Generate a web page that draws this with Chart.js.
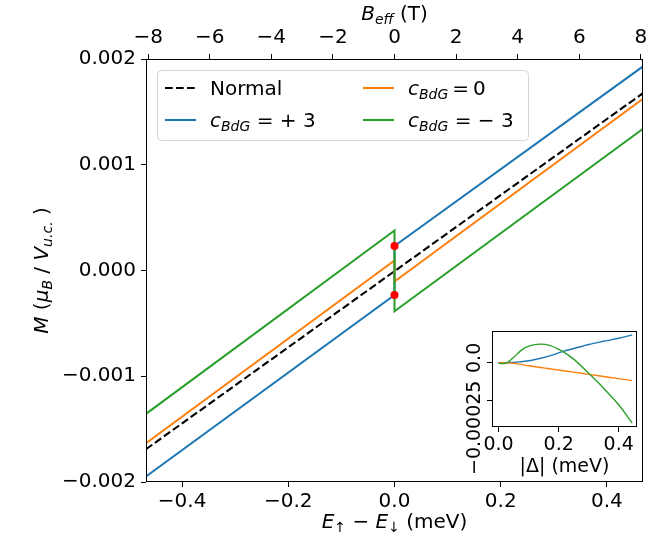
<!DOCTYPE html>
<html lang="en">
<head>
  <meta charset="UTF-8">
  <title>M vs spin splitting</title>
  <script src="https://cdn.jsdelivr.net/npm/chart.js"></script>
  <style>
    html, body { margin: 0; padding: 0; background: #fff; }
    #wrap { position: relative; width: 664px; height: 542px; }
    #mainCanvas { position: absolute; left: 0; top: 0; }
    #insetCanvas { position: absolute; left: 440px; top: 320px; }
  </style>
</head>
<body>
  <div id="wrap">
    <canvas id="mainCanvas" width="664" height="542"></canvas>
    <canvas id="insetCanvas" width="210" height="165"></canvas>
  </div>
  <script>
    // main panel: M vs E_up - E_down (meV), jump at 0
    const eSplit = [-0.468, 0, 0, 0.468];
    const mPlus3 = [-0.001948, -0.000232, 0.000232, 0.001930];
    const mZero = [-0.001633, 0.0000945, -0.000104, 0.001624];
    const mMinus3 = [-0.001355, 0.000378, -0.000385, 0.001340];
    const eNormal = [-0.468, 0.468];
    const mNormal = [-0.001690, 0.001677];
    const eDots = [0, 0];
    const mDots = [0.000232, -0.000232];

    const eTicks = [-0.4, -0.2, 0, 0.2, 0.4];
    const bTicks = [-8, -6, -4, -2, 0, 2, 4, 6, 8];
    const mTicks = [-0.002, -0.001, 0, 0.001, 0.002];

    // inset: M vs |Delta| (meV)
    const gapVals = [0, 0.01, 0.02, 0.03, 0.05, 0.075, 0.1, 0.14, 0.17, 0.21, 0.25, 0.3, 0.35, 0.4, 0.445];
    const insetPlus3 = [0, 0, 0.0000005, 0.000001, 0.000002, 0.000007, 0.000013, 0.00003, 0.000045, 0.000072, 0.000094, 0.000121, 0.000142, 0.000162, 0.000184];
    const insetZero = [0, 0, -0.0000005, -0.000001, -0.000004, -0.000011, -0.00002, -0.000031, -0.00004, -0.000051, -0.000062, -0.000077, -0.000091, -0.000105, -0.000118];
    const insetMinus3 = [0, -0.000006, -0.000005, 0.000003, 0.000035, 0.000082, 0.00011, 0.000123, 0.000115, 0.000078, 0.000024, -0.00007, -0.000169, -0.000278, -0.000399];
    const gapTicks = [0, 0.2, 0.4];
    const insetMTicks = [-0.00025, 0];

    const FONT = "'DejaVu Sans', sans-serif";
    const FS = 20, FS_INSET = 19;
    const BLUE = '#1f77b4', ORANGE = '#ff7f0e', GREEN = '#2ca02c';
    const minus = s => s.replace('-', '\u2212');
    const pts = (xs, ys) => xs.map((x, i) => ({ x: x, y: ys[i] }));

    function fontFor(p, size) {
      const s = p.sub ? size * 0.7 : size;
      return (p.it ? 'italic ' : '') + s + 'px ' + FONT;
    }
    function richWidth(ctx, parts, size) {
      let w = 0;
      parts.forEach(p => { ctx.font = fontFor(p, size); w += ctx.measureText(p.t).width; });
      return w;
    }
    function drawRich(ctx, parts, x, y, size, align) {
      let cx = align === 'center' ? x - richWidth(ctx, parts, size) / 2 : x;
      ctx.save();
      ctx.textAlign = 'left';
      ctx.textBaseline = 'alphabetic';
      ctx.fillStyle = '#000';
      parts.forEach(p => {
        ctx.font = fontFor(p, size);
        ctx.fillText(p.t, cx, y + (p.sub ? size * 0.22 : 0));
        cx += ctx.measureText(p.t).width;
      });
      ctx.restore();
    }

    const cBdG = [{ t: 'c', it: 1 }, { t: 'BdG', it: 1, sub: 1 }];
    const legendItems = [
      { parts: [{ t: 'Normal' }], color: '#000', dash: [7.7, 3.3], col: 0, row: 0 },
      { parts: cBdG.concat([{ t: ' = + 3' }]), color: BLUE, dash: [], col: 0, row: 1 },
      { parts: cBdG.concat([{ t: '\u2009=\u20090' }]), color: ORANGE, dash: [], col: 1, row: 0 },
      { parts: cBdG.concat([{ t: ' = \u2212 3' }]), color: GREEN, dash: [], col: 1, row: 1 }
    ];

    const mainDecor = {
      id: 'mainDecor',
      afterDatasetsDraw(chart) {
        const ctx = chart.ctx, ca = chart.chartArea;
        // legend
        const bx = ca.left + 11, by = ca.top + 11, bw = 371, bh = 70;
        ctx.save();
        ctx.beginPath();
        ctx.roundRect(bx + 0.5, by + 0.5, bw, bh, 4);
        ctx.fillStyle = 'rgba(255,255,255,0.8)';
        ctx.fill();
        ctx.strokeStyle = '#d6d6d6';
        ctx.lineWidth = 1;
        ctx.stroke();
        legendItems.forEach(it => {
          const hx = bx + 8 + it.col * 198, hy = by + 18 + it.row * 32;
          ctx.beginPath();
          ctx.setLineDash(it.dash);
          ctx.strokeStyle = it.color;
          ctx.lineWidth = 2.08;
          ctx.moveTo(hx, hy);
          ctx.lineTo(hx + 31, hy);
          ctx.stroke();
          ctx.setLineDash([]);
          drawRich(ctx, it.parts, hx + 45, hy + 7, FS, 'left');
        });
        ctx.restore();
      },
      afterDraw(chart) {
        const ctx = chart.ctx, ca = chart.chartArea;
        ctx.save();
        ctx.strokeStyle = '#000';
        ctx.lineWidth = 1;
        ctx.strokeRect(Math.round(ca.left) + 0.5, Math.round(ca.top) + 0.5,
          Math.round(ca.right - ca.left) - 1, Math.round(ca.bottom - ca.top) - 1);
        // axis titles
        drawRich(ctx, [{ t: 'E', it: 1 }, { t: '\u2191', sub: 1 }, { t: ' \u2212 ' }, { t: 'E', it: 1 }, { t: '\u2193', sub: 1 }, { t: ' (meV)' }],
          (ca.left + ca.right) / 2, 528, FS, 'center');
        drawRich(ctx, [{ t: 'B', it: 1 }, { t: 'eff', it: 1, sub: 1 }, { t: ' (T)' }],
          (ca.left + ca.right) / 2, 20, FS, 'center');
        ctx.translate(48, (ca.top + ca.bottom) / 2);
        ctx.rotate(-Math.PI / 2);
        drawRich(ctx, [{ t: 'M', it: 1 }, { t: ' (' }, { t: '\u03bc', it: 1 }, { t: 'B', it: 1, sub: 1 }, { t: ' / ' }, { t: 'V', it: 1 }, { t: 'u.c.', it: 1, sub: 1 }, { t: ' )' }],
          0, 0, FS, 'center');
        ctx.restore();
      }
    };

    const tickGrid = { drawOnChartArea: false, color: '#000', lineWidth: 1, tickLength: 5 };
    const tickFont = { family: FONT, size: FS };

    new Chart(document.getElementById('mainCanvas'), {
      type: 'line',
      data: {
        datasets: [
          { data: pts(eDots, mDots), showLine: false, pointRadius: 4, pointBackgroundColor: '#ff0000', pointBorderWidth: 0, order: 0 },
          { data: pts(eSplit, mMinus3), borderColor: GREEN, borderWidth: 2.08, pointRadius: 0, order: 1 },
          { data: pts(eSplit, mZero), borderColor: ORANGE, borderWidth: 2.08, pointRadius: 0, order: 2 },
          { data: pts(eSplit, mPlus3), borderColor: BLUE, borderWidth: 2.08, pointRadius: 0, order: 3 },
          { data: pts(eNormal, mNormal), borderColor: '#000', borderDash: [7.7, 3.3], borderWidth: 2.08, pointRadius: 0, order: 4 }
        ]
      },
      options: {
        responsive: false,
        animation: false,
        layout: { padding: { left: 0, right: 21, top: 0, bottom: 0 } },
        scales: {
          x: {
            type: 'linear', position: 'bottom', min: -0.468, max: 0.468,
            afterBuildTicks: s => { s.ticks = eTicks.map(v => ({ value: v })); },
            afterFit: s => { s.height = 60; },
            ticks: { color: '#000', font: tickFont, padding: 3, maxRotation: 0, callback: v => minus(v.toFixed(1)) },
            grid: tickGrid, border: { display: false }
          },
          xB: {
            type: 'linear', position: 'top', min: -8.07, max: 8.07,
            afterBuildTicks: s => { s.ticks = bTicks.map(v => ({ value: v })); },
            afterFit: s => { s.height = 59; },
            ticks: { color: '#000', font: tickFont, padding: 4, maxRotation: 0, callback: v => minus(String(v)) },
            grid: tickGrid, border: { display: false }
          },
          y: {
            type: 'linear', position: 'left', min: -0.002, max: 0.002,
            afterBuildTicks: s => { s.ticks = mTicks.map(v => ({ value: v })); },
            afterFit: s => { s.width = 146; },
            ticks: { color: '#000', font: tickFont, padding: 5, callback: v => minus(v.toFixed(3)) },
            grid: tickGrid, border: { display: false }
          }
        },
        plugins: { legend: { display: false }, tooltip: { enabled: false } }
      },
      plugins: [mainDecor]
    });

    const insetDecor = {
      id: 'insetDecor',
      beforeDraw(chart) {
        const ctx = chart.ctx, ca = chart.chartArea;
        ctx.save();
        ctx.fillStyle = '#fff';
        ctx.fillRect(ca.left, ca.top, ca.right - ca.left, ca.bottom - ca.top);
        ctx.restore();
      },
      afterDraw(chart) {
        const ctx = chart.ctx, ca = chart.chartArea, ys = chart.scales.y;
        ctx.save();
        ctx.strokeStyle = '#000';
        ctx.lineWidth = 1;
        ctx.strokeRect(Math.round(ca.left) + 0.5, Math.round(ca.top) + 0.5,
          Math.round(ca.right - ca.left) - 1, Math.round(ca.bottom - ca.top) - 1);
        ctx.fillStyle = '#000';
        ctx.font = FS_INSET + 'px ' + FONT;
        ctx.textAlign = 'right';
        ctx.textBaseline = 'alphabetic';
        // rotated y tick labels, as in the original
        insetMTicks.forEach(v => {
          const label = v === 0 ? '0.0' : minus(String(v));
          ctx.save();
          ctx.translate(ca.left - 12, ys.getPixelForValue(v));
          ctx.rotate(-Math.PI / 2);
          ctx.fillText(label, 20, 0);
          ctx.restore();
        });
        ctx.textAlign = 'center';
        ctx.fillText('|\u0394| (meV)', (ca.left + ca.right) / 2, 152);
        ctx.restore();
      }
    };

    const insetLine = (ys, color) => ({ data: pts(gapVals, ys), borderColor: color, borderWidth: 1.4, pointRadius: 0, cubicInterpolationMode: 'monotone' });

    new Chart(document.getElementById('insetCanvas'), {
      type: 'line',
      data: {
        datasets: [
          insetLine(insetMinus3, GREEN),
          insetLine(insetZero, ORANGE),
          insetLine(insetPlus3, BLUE)
        ]
      },
      options: {
        responsive: false,
        animation: false,
        layout: { padding: { left: 0, right: 13, top: 11, bottom: 0 } },
        scales: {
          x: {
            type: 'linear', position: 'bottom', min: -0.022, max: 0.461,
            afterBuildTicks: s => { s.ticks = gapTicks.map(v => ({ value: v })); },
            afterFit: s => { s.height = 58; },
            ticks: { color: '#000', font: { family: FONT, size: FS_INSET }, padding: 2, maxRotation: 0, callback: v => v.toFixed(1) },
            grid: tickGrid, border: { display: false }
          },
          y: {
            type: 'linear', position: 'left', min: -0.000425, max: 0.00021,
            afterBuildTicks: s => { s.ticks = insetMTicks.map(v => ({ value: v })); },
            afterFit: s => { s.width = 52; },
            ticks: { display: false },
            grid: tickGrid, border: { display: false }
          }
        },
        plugins: { legend: { display: false }, tooltip: { enabled: false } }
      },
      plugins: [insetDecor]
    });
  </script>
</body>
</html>
